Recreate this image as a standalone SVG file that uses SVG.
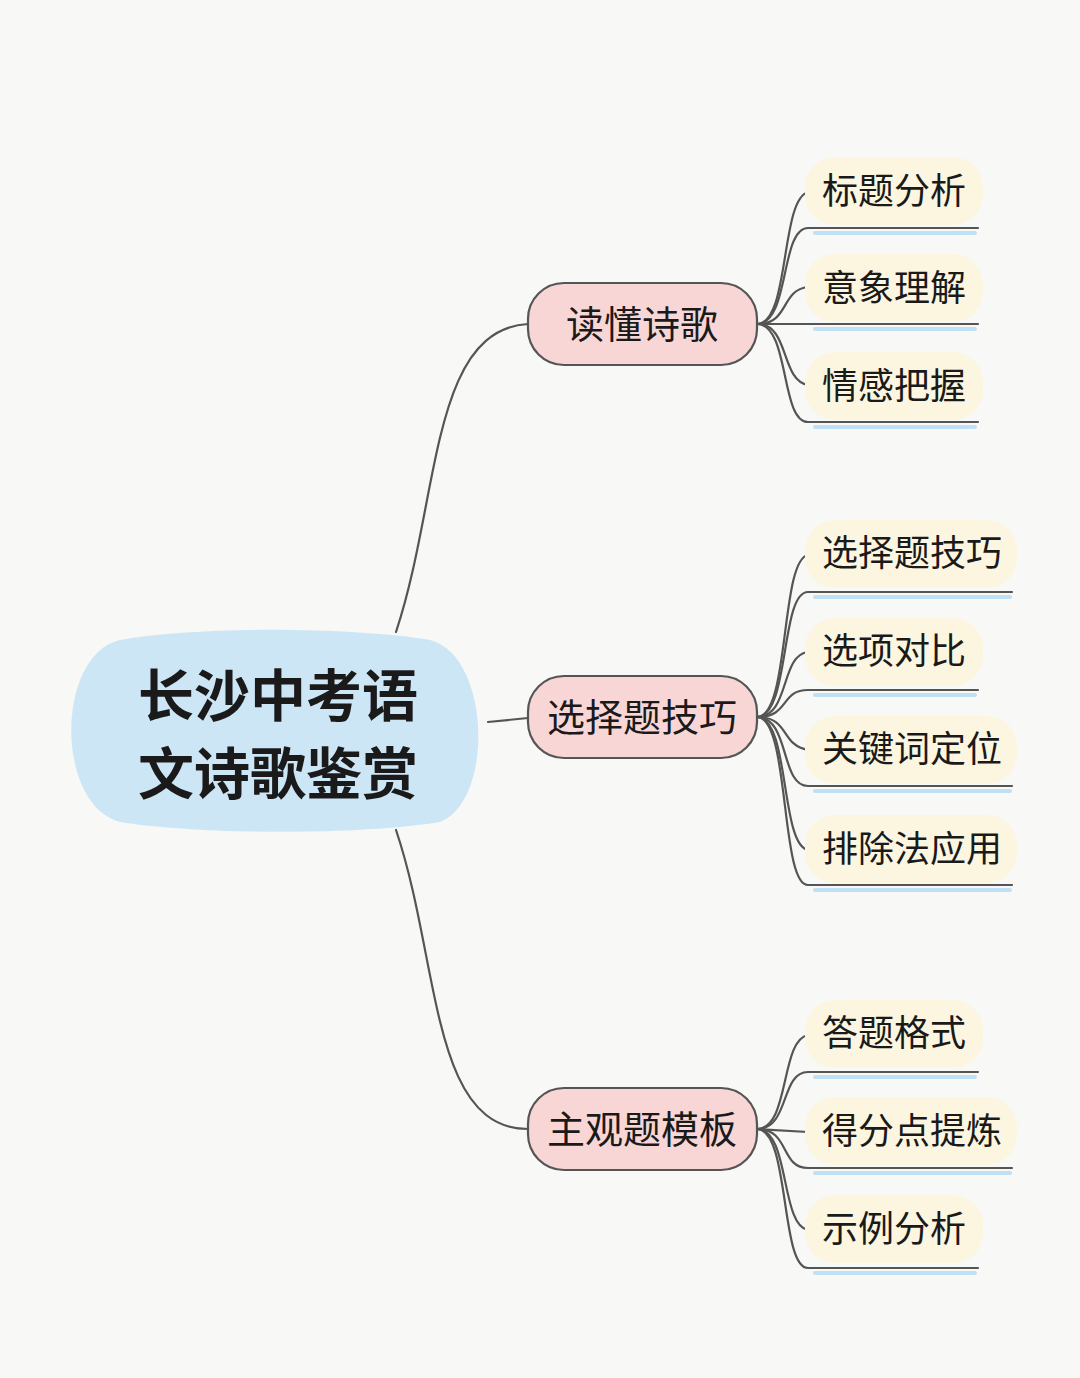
<svg xmlns="http://www.w3.org/2000/svg" width="1080" height="1378" viewBox="0 0 1080 1378">
<style>
.t{font-family:"Noto Sans CJK SC","Noto Sans",sans-serif;fill:#1a1a1a}
.root{font-size:56px;font-weight:bold}
.mid{font-size:38px}
.leaf{font-size:36px}
.c{fill:none;stroke:#555;stroke-width:2.2;stroke-linecap:round}
.ul{fill:none;stroke:#bfe0f5;stroke-width:4;stroke-linecap:round}
.lf{fill:#fcf6e1}
.md{fill:#f9d6d6;stroke:#555;stroke-width:2.2}
</style>
<rect width="1080" height="1378" fill="#f8f8f6"/>
<g id="connectors">
<path class="c" d="M396,632 C440,500 430,330 528,324"/>
<path class="c" d="M488,722 L528,718"/>
<path class="c" d="M396,830 C440,960 430,1129 528,1129"/>
<path class="c" d="M757,324 C790,324 780,200 808,192"/>
<path class="c" d="M757,324 C790,324 780,290 808,287"/>
<path class="c" d="M757,324 C790,324 780,380 808,385"/>
<path class="c" d="M757,324 C790,324 780,228 808,228 L978,228"/>
<path class="c" d="M757,324 L978,324"/>
<path class="c" d="M757,324 C790,324 780,422 808,422 L978,422"/>
<path class="c" d="M757,717 C790,717 780,560 808,555"/>
<path class="c" d="M757,717 C790,717 780,655 808,652"/>
<path class="c" d="M757,717 C790,717 780,745 808,750"/>
<path class="c" d="M757,717 C790,717 780,845 808,850"/>
<path class="c" d="M757,717 C790,717 780,592 808,592 L1012,592"/>
<path class="c" d="M757,717 C790,717 780,690 808,690 L978,690"/>
<path class="c" d="M757,717 C790,717 780,786 808,786 L1012,786"/>
<path class="c" d="M757,717 C790,717 780,885 808,885 L1012,885"/>
<path class="c" d="M757,1129 C790,1129 780,1040 808,1035"/>
<path class="c" d="M757,1129 L808,1132"/>
<path class="c" d="M757,1129 C790,1129 780,1225 808,1230"/>
<path class="c" d="M757,1129 C790,1129 780,1072 808,1072 L978,1072"/>
<path class="c" d="M757,1129 C790,1129 780,1168 808,1168 L1012,1168"/>
<path class="c" d="M757,1129 C790,1129 780,1268 808,1268 L978,1268"/>
</g>
<g id="root"><path d="M120,640 C200,625 360,628 430,640 C490,655 495,800 440,822 C360,835 200,835 120,822 C55,805 55,655 120,640 Z" fill="#cde6f6"/>
<text class="t root" x="278" y="716" text-anchor="middle">长沙中考语</text>
<text class="t root" x="278" y="794" text-anchor="middle">文诗歌鉴赏</text></g>
<g id="m1"><rect class="md" x="528" y="283" width="229" height="82" rx="36"/><text class="t mid" x="642" y="338" text-anchor="middle">读懂诗歌</text></g>
<g id="m2"><rect class="md" x="528" y="676" width="229" height="82" rx="36"/><text class="t mid" x="642" y="731" text-anchor="middle">选择题技巧</text></g>
<g id="m3"><rect class="md" x="528" y="1088" width="229" height="82" rx="36"/><text class="t mid" x="642" y="1143" text-anchor="middle">主观题模板</text></g>
<g id="l1"><rect class="lf" x="805" y="157" width="178" height="68" rx="30"/><path class="ul" d="M815,233 L975,233"/><text class="t leaf" x="822" y="204">标题分析</text></g>
<g id="l2"><rect class="lf" x="805" y="254" width="178" height="68" rx="30"/><path class="ul" d="M815,329 L975,329"/><text class="t leaf" x="822" y="301">意象理解</text></g>
<g id="l3"><rect class="lf" x="805" y="352" width="178" height="68" rx="30"/><path class="ul" d="M815,427 L975,427"/><text class="t leaf" x="822" y="399">情感把握</text></g>
<g id="l4"><rect class="lf" x="805" y="520" width="212" height="68" rx="30"/><path class="ul" d="M815,597 L1010,597"/><text class="t leaf" x="822" y="566">选择题技巧</text></g>
<g id="l5"><rect class="lf" x="805" y="618" width="178" height="68" rx="30"/><path class="ul" d="M815,695 L975,695"/><text class="t leaf" x="822" y="664">选项对比</text></g>
<g id="l6"><rect class="lf" x="805" y="716" width="212" height="68" rx="30"/><path class="ul" d="M815,791 L1010,791"/><text class="t leaf" x="822" y="762">关键词定位</text></g>
<g id="l7"><rect class="lf" x="805" y="815" width="212" height="68" rx="30"/><path class="ul" d="M815,890 L1010,890"/><text class="t leaf" x="822" y="862">排除法应用</text></g>
<g id="l8"><rect class="lf" x="805" y="1000" width="178" height="68" rx="30"/><path class="ul" d="M815,1077 L975,1077"/><text class="t leaf" x="822" y="1046">答题格式</text></g>
<g id="l9"><rect class="lf" x="805" y="1097" width="212" height="68" rx="30"/><path class="ul" d="M815,1173 L1010,1173"/><text class="t leaf" x="822" y="1144">得分点提炼</text></g>
<g id="l10"><rect class="lf" x="805" y="1195" width="178" height="68" rx="30"/><path class="ul" d="M815,1273 L975,1273"/><text class="t leaf" x="822" y="1242">示例分析</text></g>
</svg>
